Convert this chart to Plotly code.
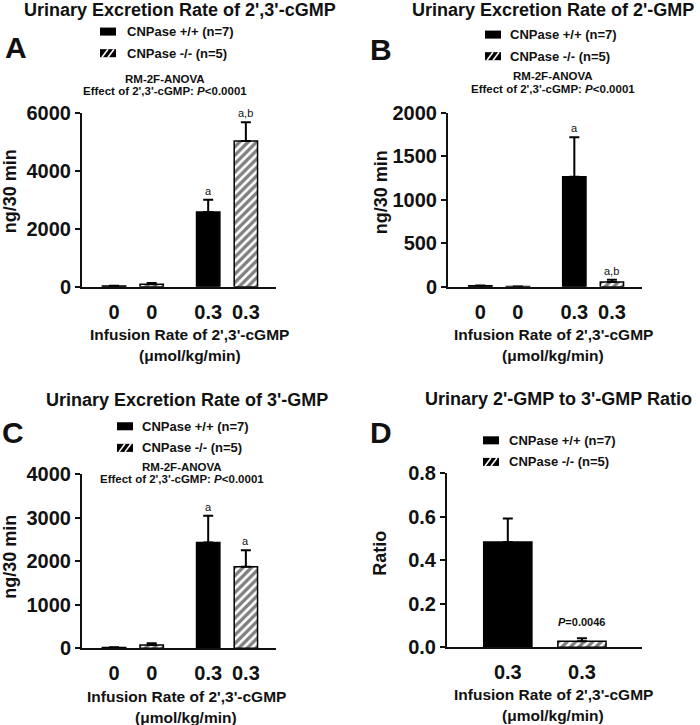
import plotly.graph_objects as go

W, H = 700, 725

# ---------------- data ----------------
pos4 = [0, 1, 2.5, 3.5]
tick4 = ["0", "0", "0.3", "0.3"]
pos2 = [0, 1]
tick2 = ["0.3", "0.3"]

# Panel A: 2',3'-cGMP (ng/30 min)
A_wt_mean = [25, 2580]
A_wt_sem = [10, 420]
A_ko_mean = [80, 5030]
A_ko_sem = [50, 650]

# Panel B: 2'-GMP (ng/30 min)
B_wt_mean = [10, 1265]
B_wt_sem = [3, 455]
B_ko_mean = [2, 54]
B_ko_sem = [1, 26]

# Panel C: 3'-GMP (ng/30 min)
C_wt_mean = [15, 2425]
C_wt_sem = [5, 615]
C_ko_mean = [75, 1870]
C_ko_sem = [40, 380]

# Panel D: ratio
D_wt_mean = [0.485]
D_wt_sem = [0.108]
D_ko_mean = [0.028]
D_ko_sem = [0.013]

titles = ["Urinary Excretion Rate of 2',3'-cGMP",
          "Urinary Excretion Rate of 2'-GMP",
          "Urinary Excretion Rate of 3'-GMP",
          "Urinary 2'-GMP to 3'-GMP Ratio"]
letters = ["A", "B", "C", "D"]
legend_labels = ["CNPase +/+ (n=7)", "CNPase -/- (n=5)"]

FONT = "Liberation Sans, Arial, sans-serif"
INK = "#111111"


def px(x):
    return x / W


def py(t):
    # screen pixel (from top) -> paper fraction, calibrated to the rendered output
    return 1 - (t - 12.5) / 700.0


fig = go.Figure()


def add_bars(ax, x_wt, wt_m, wt_s, x_ko, ko_m, ko_s, width):
    xa = "x" if ax == 1 else f"x{ax}"
    ya = "y" if ax == 1 else f"y{ax}"
    fig.add_trace(go.Bar(
        x=x_wt, y=wt_m, width=width, xaxis=xa, yaxis=ya,
        marker=dict(color="black", line=dict(color="black", width=1.5)),
        error_y=dict(type="data", array=wt_s, arrayminus=[0] * len(wt_s), symmetric=False,
                     color="black", thickness=2, width=5),
        showlegend=False))
    fig.add_trace(go.Bar(
        x=x_ko, y=ko_m, width=width, xaxis=xa, yaxis=ya,
        marker=dict(color="white", line=dict(color="black", width=1.5),
                    pattern=dict(shape="/", fgcolor="black", bgcolor="white", size=6, solidity=0.55)),
        error_y=dict(type="data", array=ko_s, arrayminus=[0] * len(ko_s), symmetric=False,
                     color="black", thickness=2, width=5),
        showlegend=False))


add_bars(1, [pos4[0], pos4[2]], A_wt_mean, A_wt_sem, [pos4[1], pos4[3]], A_ko_mean, A_ko_sem, 0.62)
add_bars(2, [pos4[0], pos4[2]], B_wt_mean, B_wt_sem, [pos4[1], pos4[3]], B_ko_mean, B_ko_sem, 0.62)
add_bars(3, [pos4[0], pos4[2]], C_wt_mean, C_wt_sem, [pos4[1], pos4[3]], C_ko_mean, C_ko_sem, 0.62)
add_bars(4, [pos2[0]], D_wt_mean, D_wt_sem, [pos2[1]], D_ko_mean, D_ko_sem, 0.65)

tickfont = dict(family=FONT, size=20, color=INK, weight="bold")


def xaxis_cfg(domain, rng, tv, tt, anchor):
    return dict(domain=domain, range=rng, tickvals=tv, ticktext=tt, ticks="",
                showline=True, linecolor=INK, linewidth=2, showgrid=False, zeroline=False,
                tickfont=tickfont, anchor=anchor, fixedrange=True, ticklabelstandoff=6)


def yaxis_cfg(domain, rng, dtick, anchor):
    return dict(domain=domain, range=rng, dtick=dtick, tick0=0, ticks="outside", ticklen=5,
                tickwidth=2, tickcolor=INK, showline=True, linecolor=INK, linewidth=2,
                showgrid=False, zeroline=False, tickfont=tickfont, anchor=anchor, fixedrange=True)


fig.update_layout(
    width=W, height=H, margin=dict(l=0, r=0, t=0, b=0), autosize=False,
    paper_bgcolor="white", plot_bgcolor="white", barmode="overlay", showlegend=False,
    xaxis=xaxis_cfg([px(82), px(276)], [-0.85, 4.3], pos4, tick4, "y"),
    yaxis=yaxis_cfg([py(287), py(114)], [0, 6000], 2000, "x"),
    xaxis2=xaxis_cfg([px(448), px(642)], [-0.86, 4.3], pos4, tick4, "y2"),
    yaxis2=yaxis_cfg([py(287), py(114)], [0, 2000], 500, "x2"),
    xaxis3=xaxis_cfg([px(82), px(276)], [-0.85, 4.3], pos4, tick4, "y3"),
    yaxis3=yaxis_cfg([py(647), py(473.5)], [0, 4000], 1000, "x3"),
    xaxis4=xaxis_cfg([px(447), px(642)], [-0.82, 1.81], pos2, tick2, "y4"),
    yaxis4=dict(yaxis_cfg([py(646), py(473)], [0, 0.8], 0.2, "x4"), tickformat=".1f"),
)

ann = []
shapes = []


def text(x, y, s, size, bold=True, angle=0, xanchor="center"):
    ann.append(dict(x=px(x), y=py(y), xref="paper", yref="paper", text=s, showarrow=False,
                    xanchor=xanchor, yanchor="middle", textangle=angle,
                    font=dict(family=FONT, size=size, color=INK, weight="bold" if bold else "normal")))


# titles
for (cx, cy), t in zip([(180, 12), (553, 12), (187, 400), (558, 399)], titles):
    text(cx, cy, t, 18)
# panel letters
for (cx, cy), l in zip([(16, 49), (381, 51), (13, 432), (381, 432)], letters):
    text(cx, cy, l, 30)

# legends
for (ix, iy, tx) in [(100, 33, 125), (485, 36, 508), (117, 426, 140), (483, 440, 507)]:
    for k in range(2):
        yy = iy + k * 21.5
        shapes.append(dict(type="rect", xref="paper", yref="paper",
                           x0=px(ix), x1=px(ix + 16), y0=py(yy + 4), y1=py(yy - 4),
                           fillcolor="black", line=dict(width=0)))
        if k == 1:
            for dx in [2, 8]:
                shapes.append(dict(type="line", xref="paper", yref="paper",
                                   x0=px(ix + dx), y0=py(yy + 4), x1=px(ix + dx + 6), y1=py(yy - 4),
                                   line=dict(color="white", width=1.6)))
        text(tx, yy, legend_labels[k], 13, xanchor="left")

# ANOVA notes
for (cx, cy1, cy2) in [(165, 80, 92), (553, 77, 90), (182, 467, 479)]:
    text(cx, cy1, "RM-2F-ANOVA", 11.5)
    text(cx, cy2, "Effect of 2',3'-cGMP: <i>P</i><0.0001", 11.5)

# axis titles
for (cx, cy) in [(190, 335), (553, 335), (186, 695), (553, 693)]:
    text(cx, cy, "Infusion Rate of 2',3'-cGMP", 15.5)
    text(cx, cy + 21, "(\u03bcmol/kg/min)", 15.5)
for (cx, cy, s) in [(10, 192, "ng/30 min"), (381, 193, "ng/30 min"), (10, 556, "ng/30 min"), (380, 552, "Ratio")]:
    text(cx, cy, s, 18, angle=-90)


# significance letters (data coords)
def sig(ax, x, y, s):
    xa = "x" if ax == 1 else f"x{ax}"
    ya = "y" if ax == 1 else f"y{ax}"
    ann.append(dict(x=x, y=y, xref=xa, yref=ya, text=s, showarrow=False, yanchor="bottom",
                    yshift=1, font=dict(family=FONT, size=11, color=INK)))


sig(1, pos4[2], A_wt_mean[1] + A_wt_sem[1], "a")
sig(1, pos4[3], A_ko_mean[1] + A_ko_sem[1], "a,b")
sig(2, pos4[2], B_wt_mean[1] + B_wt_sem[1], "a")
sig(2, pos4[3], B_ko_mean[1] + B_ko_sem[1], "a,b")
sig(3, pos4[2], C_wt_mean[1] + C_wt_sem[1], "a")
sig(3, pos4[3], C_ko_mean[1] + C_ko_sem[1], "a")
ann.append(dict(x=pos2[1], y=D_ko_mean[0] + D_ko_sem[0], xref="x4", yref="y4",
                text="<i>P</i>=0.0046", showarrow=False, yanchor="bottom", yshift=8,
                font=dict(family=FONT, size=11, color=INK, weight="bold")))

fig.update_layout(annotations=ann, shapes=shapes)
fig.write_html("out.html",
               config={"responsive": False, "displayModeBar": False, "staticPlot": True},
               post_script="document.body.style.margin='0';document.body.style.overflow='hidden';")
